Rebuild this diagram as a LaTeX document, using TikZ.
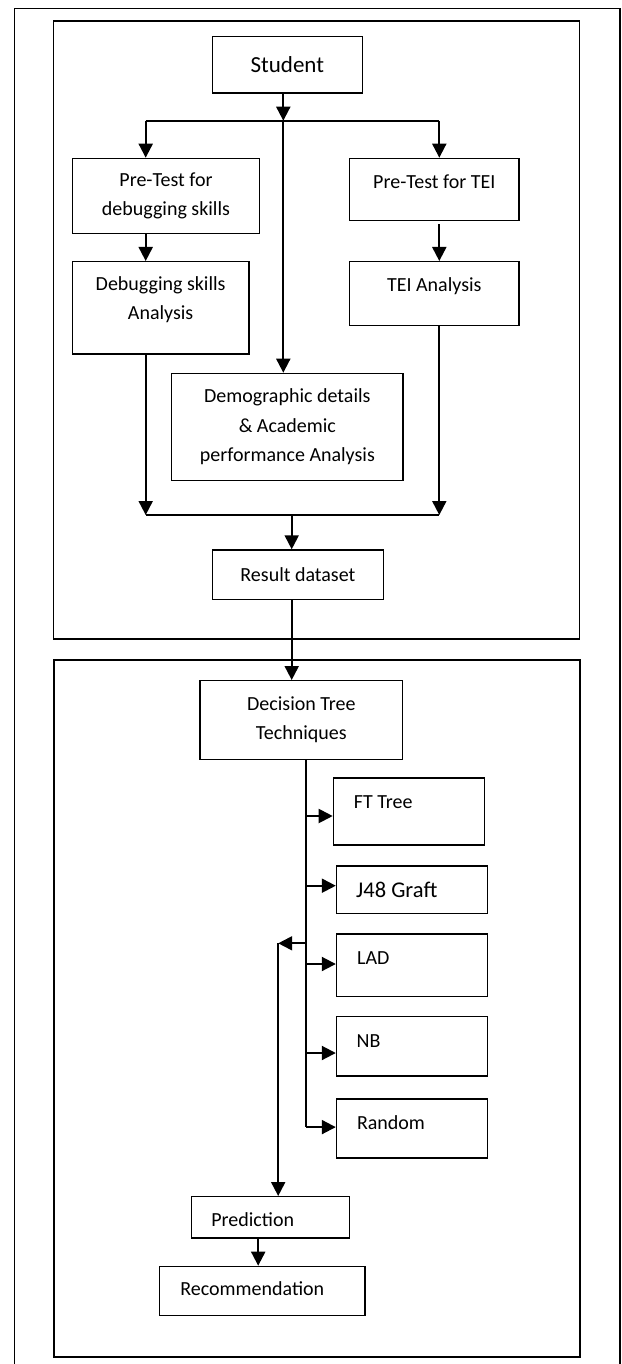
\documentclass[tikz,border=0pt]{standalone}
\usepackage{fontspec}
\setmainfont{Carlito}
\usetikzlibrary{arrows.meta,calc}
\begin{document}
\begin{tikzpicture}[x=1pt,y=-1pt,
  box/.style={draw, line width=1.3pt, inner sep=0pt, anchor=north west},
  ctxt/.style={font=\fontsize{20}{29.5}\selectfont, align=center},
  ltxt/.style={inner sep=0pt, anchor=base west, font=\fontsize{20}{24}\selectfont},
  btxt/.style={inner sep=0pt, anchor=base, font=\fontsize{20}{24}\selectfont},
  mtxt/.style={inner sep=0pt, anchor=center, align=center, font=\fontsize{20}{29.5}\selectfont},
  arr/.style={line width=2pt, -{Triangle[length=14pt,width=14pt]}},
  conn/.style={line width=2pt},
  frame/.style={line width=1.7pt},
]
\useasboundingbox (0,0) rectangle (621,1364);
\fill[white] (0,0) rectangle (621,1364);

% frames
\draw[line width=1.3pt] (14.3,1364) -- (14.3,8.3) -- (620,8.3) -- (620,1364);
\draw[frame] (53.6,21.3) rectangle (579.6,639);
\draw[frame] (53.7,660) rectangle (579.7,1356.7);

% boxes of the upper part
\node[box, minimum width=150, minimum height=56.6, font=\fontsize{23}{28}\selectfont] (student) at (211.7,35.7) {Student};
\node[box, ctxt, minimum width=187.3, minimum height=75] (pre1) at (71.7,157.7) {Pre-Test for\\debugging skills};
\node[box, minimum width=176.6, minimum height=92.3] (debug) at (71.7,261) {};
\node[mtxt] (debugT) at ($(debug.north)+(0,38.7)$) {Debugging skills\\Analysis};
\node[box, minimum width=169.3, minimum height=62.3] (tei1) at (349,157.7) {};
\node[btxt] (tei1T) at ($(tei1.north)+(0,30.6)$) {Pre-Test for TEI};
\node[box, minimum width=169.3, minimum height=64] (tei2) at (349,261) {};
\node[btxt] (tei2T) at ($(tei2.north)+(0,30.7)$) {TEI Analysis};
\node[box, ctxt, minimum width=231.4, minimum height=107.3] (demo) at (171,372.7) {Demographic details\\\& Academic\\performance Analysis};
\node[box, ctxt, minimum width=171.1, minimum height=49.7] (result) at (211.7,549.3) {Result dataset};

% boxes of the lower part
\node[box, ctxt, minimum width=202.8, minimum height=78.5] (dtree) at (199.3,680) {Decision Tree\\Techniques};
\node[box, minimum width=150.8, minimum height=67] (ft) at (332.7,777.3) {};
\node[ltxt] (ftT) at ($(ft.north west)+(21,31)$) {FT Tree};
\node[box, minimum width=150.7, minimum height=47.4] (j48) at (335.8,865.3) {};
\node[ltxt, font=\fontsize{22.5}{26}\selectfont] (j48T) at ($(j48.north west)+(20.2,32.4)$) {J48 Graft};
\node[box, minimum width=150.7, minimum height=62.6] (lad) at (335.8,933.4) {};
\node[ltxt] (ladT) at ($(lad.north west)+(21.2,30.6)$) {LAD};
\node[box, minimum width=150.7, minimum height=59.2] (nb) at (335.8,1016.1) {};
\node[ltxt] (nbT) at ($(nb.north west)+(20.6,31.3)$) {NB};
\node[box, minimum width=150.7, minimum height=58.9] (random) at (335.8,1098.4) {};
\node[ltxt] (randomT) at ($(random.north west)+(21,30.9)$) {Random};
\node[box, minimum width=158, minimum height=41.3] (pred) at (190.5,1196) {};
\node[ltxt] (predT) at ($(pred.north west)+(20.6,30.7)$) {Prediction};
\node[box, minimum width=205.6, minimum height=49] (rec) at (158.8,1265.7) {};
\node[ltxt] (recT) at ($(rec.north west)+(21.4,30)$) {Recommendation};

% connector points
\coordinate (br) at (283.3,120.7);
\coordinate (brL) at (145.7,120.7);
\coordinate (brR) at (439.3,120.7);
\coordinate (jL) at (145.7,515);
\coordinate (jR) at (439.3,515);
\coordinate (jM) at (291.7,515);
\coordinate (vB) at (305.9,1127.1);
\coordinate (aFT) at (305.9,816);
\coordinate (aJ) at (305.9,885.7);
\coordinate (aL) at (305.9,964);
\coordinate (aN) at (305.9,1053);
\coordinate (lA) at (305.9,943.3);
\coordinate (lB) at (278.2,943.3);
\coordinate (pr) at (258.2,1250);

% upper connectors
\draw[arr] (student.south -| br) -- (br);
\draw[conn] (brL) -- (brR);
\draw[arr] (brL) -- (brL |- pre1.north);
\draw[arr] (brR) -- (brR |- tei1.north);
\draw[arr] (br) -- (br |- demo.north);
\draw[arr] (pre1.south -| brL) -- (debug.north -| brL);
\draw[arr] ($(tei1.south -| brR)+(0,3)$) -- (tei2.north -| brR);
\draw[arr] (debug.south -| jL) -- (jL);
\draw[arr] (tei2.south -| jR) -- (jR);
\draw[conn] (jL) -- (jR);
\draw[arr] (jM) -- (result.north -| jM);
\draw[arr] (result.south -| jM) -- (dtree.north -| jM);

% lower connectors
\draw[conn] (dtree.south -| vB) -- (vB);
\draw[arr] (aFT) -- (aFT -| ft.west);
\draw[arr] (aJ) -- (aJ -| j48.west);
\draw[arr] (aL) -- (aL -| lad.west);
\draw[arr] (aN) -- (aN -| nb.west);
\draw[arr] (vB) -- (vB -| random.west);
\draw[arr] (lA) -- (lB);
\draw[arr] (lB) -- (lB |- pred.north);
\draw[arr] (pred.south -| pr) -- (rec.north -| pr);
\end{tikzpicture}
\end{document}
